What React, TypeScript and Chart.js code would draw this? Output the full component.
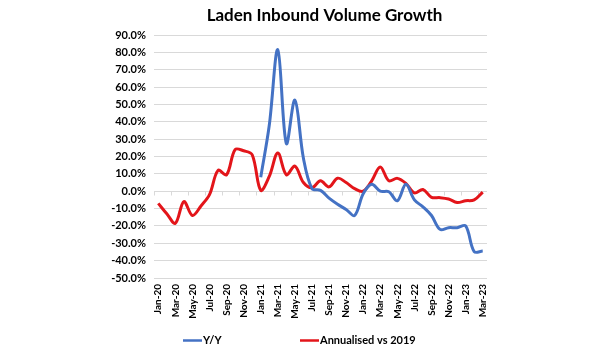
import React, { useEffect, useRef } from "react";
import { Chart, registerables } from "chart.js";

Chart.register(...registerables);

const months: string[] = [
  "Jan-20", "Feb-20", "Mar-20", "Apr-20", "May-20", "Jun-20", "Jul-20", "Aug-20", "Sep-20", "Oct-20", "Nov-20", "Dec-20",
  "Jan-21", "Feb-21", "Mar-21", "Apr-21", "May-21", "Jun-21", "Jul-21", "Aug-21", "Sep-21", "Oct-21", "Nov-21", "Dec-21",
  "Jan-22", "Feb-22", "Mar-22", "Apr-22", "May-22", "Jun-22", "Jul-22", "Aug-22", "Sep-22", "Oct-22", "Nov-22", "Dec-22",
  "Jan-23", "Feb-23", "Mar-23",
];

const yoy: (number | null)[] = [
  null, null, null, null, null, null, null, null, null, null, null, null,
  8, 38, 81.5, 27.5, 52.5, 19, 1.5, 0.5, -4, -7.5, -10.5, -14,
  -1.5, 4, 0, -0.3, -5.5, 4, -5, -9, -14, -22, -21, -21,
  -20, -34.8, -34.5,
];

const annualised: number[] = [
  -7, -13, -18.5, -6, -14, -8.5, -2, 12, 9.5, 24, 23.3, 21,
  0.5, 8.5, 22, 9.5, 14.5, 5, 2, 6, 2.5, 7.5, 5, 1.5,
  0, 6, 14, 6, 7.4, 4.5, -1, 1, -3.5, -3.7, -4.5, -6.5,
  -5.5, -5, -0.5,
];

const yTickMin = -50;
const yTickMax = 90;
const yTickStep = 10;

const titleText = "Laden Inbound Volume Growth";
const seriesNames = ["Y/Y", "Annualised vs 2019"];
const seriesColors = ["#4472C4", "#E3151A"];

const FONT = "Lato, 'Open Sans', sans-serif";

const zeroTicksPlugin = {
  id: "zeroTicks",
  beforeDatasetsDraw(chart: any) {
    const { ctx, scales } = chart;
    const x = scales.x;
    const y = scales.y;
    const y0 = Math.round(y.getPixelForValue(0)) + 0.5;
    ctx.save();
    ctx.strokeStyle = "#d9d9d9";
    ctx.lineWidth = 1;
    ctx.beginPath();
    ctx.moveTo(x.left, y0);
    ctx.lineTo(x.right, y0);
    for (let k = 0; k <= months.length; k += 2) {
      const px = Math.round(x.getPixelForValue(k - 0.5)) + 0.5;
      ctx.moveTo(px, y0);
      ctx.lineTo(px, y0 + 4);
    }
    ctx.stroke();
    ctx.restore();
  },
};

const titleLegendPlugin = {
  id: "titleLegend",
  afterDraw(chart: any) {
    const { ctx, width, height, chartArea } = chart;
    ctx.save();
    // title
    ctx.font = `bold 17px ${FONT}`;
    ctx.fillStyle = "#000";
    ctx.textAlign = "center";
    ctx.textBaseline = "middle";
    ctx.fillText(titleText, (chartArea.left + chartArea.right) / 2 + 4, 16);
    // legend
    const cx = width / 2;
    const cy = height - 9.5;
    ctx.font = `bold 11px ${FONT}`;
    ctx.textAlign = "left";
    const starts = [cx - 117, cx];
    seriesNames.forEach((name, i) => {
      const sx = starts[i];
      ctx.strokeStyle = seriesColors[i];
      ctx.lineWidth = 2.5;
      ctx.beginPath();
      ctx.moveTo(sx, cy);
      ctx.lineTo(sx + 19, cy);
      ctx.stroke();
      ctx.fillStyle = "#000";
      ctx.fillText(name, sx + 20, cy);
    });
    ctx.restore();
  },
};

export default function App() {
  const ref = useRef<HTMLCanvasElement | null>(null);

  useEffect(() => {
    if (!ref.current) return;
    const chart = new Chart(ref.current, {
      type: "line",
      data: {
        labels: months,
        datasets: [
          {
            label: seriesNames[0],
            data: yoy,
            borderColor: seriesColors[0],
            backgroundColor: seriesColors[0],
            borderWidth: 3,
            pointRadius: 0,
            tension: 0.35,
            fill: false,
          },
          {
            label: seriesNames[1],
            data: annualised,
            borderColor: seriesColors[1],
            backgroundColor: seriesColors[1],
            borderWidth: 3,
            pointRadius: 0,
            tension: 0.35,
            fill: false,
          },
        ],
      },
      options: {
        animation: false,
        responsive: false,
        maintainAspectRatio: false,
        layout: { padding: { left: 0, right: 113, top: 35, bottom: 0 } },
        plugins: {
          legend: { display: false },
          tooltip: { enabled: false },
          title: { display: false },
        },
        scales: {
          x: {
            type: "category",
            offset: true,
            grid: { display: false, drawTicks: false },
            border: { display: false },
            ticks: {
              autoSkip: false,
              minRotation: 90,
              maxRotation: 90,
              padding: 6,
              color: "#000",
              font: { family: FONT, size: 10, weight: "bold" },
              callback: (_v: any, idx: number) => (idx % 2 === 0 ? months[idx] : ""),
            },
            afterFit: (scale: any) => {
              scale.height = 72;
            },
          },
          y: {
            min: yTickMin,
            max: yTickMax,
            grid: { color: "#d9d9d9", drawTicks: false },
            border: { display: false },
            ticks: {
              stepSize: yTickStep,
              padding: 8,
              color: "#000",
              font: { family: FONT, size: 11, weight: "bold" },
              callback: (v: any) => Number(v).toFixed(1) + "%",
            },
            afterFit: (scale: any) => {
              scale.width = 154;
            },
          },
        },
      },
      plugins: [zeroTicksPlugin, titleLegendPlugin],
    });
    return () => chart.destroy();
  }, []);

  return (
    <div style={{ position: "fixed", left: 0, top: 0, width: 600, height: 350, background: "#fff" }}>
      <canvas ref={ref} width={600} height={350} style={{ display: "block" }} />
    </div>
  );
}
